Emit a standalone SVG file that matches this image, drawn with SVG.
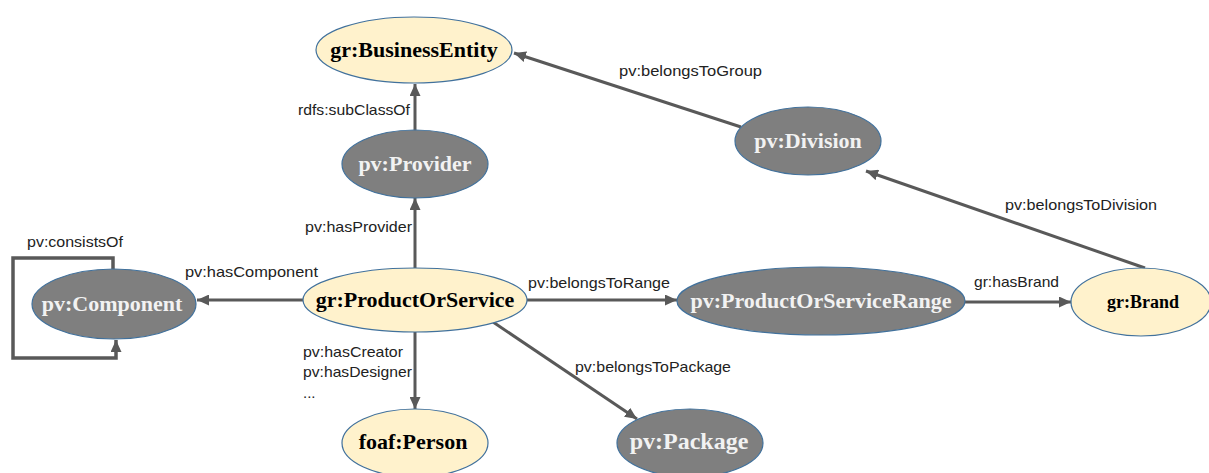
<svg xmlns="http://www.w3.org/2000/svg" width="1209" height="473" viewBox="0 0 1209 473">
<defs>
<marker id="ah" markerUnits="userSpaceOnUse" markerWidth="13" markerHeight="11" refX="12" refY="5.5" orient="auto">
<path d="M0,0 L12,5.5 L0,11 z" fill="#595959"/>
</marker>
<style>
.edge{fill:none;stroke:#595959;stroke-width:3;marker-end:url(#ah)}
.loop{fill:none;stroke:#595959;stroke-width:3.5;marker-end:url(#ah)}
.dark{fill:#7f7f7f;stroke:#41719c;stroke-width:1.2}
.light{fill:#fff2cc;stroke:#41719c;stroke-width:1.2}
.nt{font-family:"Liberation Serif","Times New Roman",serif;font-weight:bold;font-size:22px;text-anchor:middle}
.dt{fill:#f2f2f2}
.lt{fill:#000}
.lbl{font-family:"Liberation Sans",Arial,sans-serif;font-size:15px;fill:#222}
</style>
</defs>
<rect width="1209" height="473" fill="#fff"/>
<g id="connectors">
<path class="edge" d="M415,130 L415,84"/>
<path class="edge" d="M415,268 L415,198"/>
<path class="edge" d="M741,127 L514,53"/>
<path class="edge" d="M1145,268 L866,171"/>
<path class="edge" d="M965,302 L1071,302"/>
<path class="edge" d="M527,300 L677,300"/>
<path class="edge" d="M303,300 L197,300"/>
<path class="edge" d="M415,332 L415,409"/>
<path class="edge" d="M493,322 L637,419"/>
<path class="loop" d="M113,269 L113,258 L13,258 L13,358 L116,358 L116,340"/>
<text class="lbl" x="298" y="115" textLength="112" lengthAdjust="spacingAndGlyphs">rdfs:subClassOf</text>
<text class="lbl" x="305" y="232" textLength="107" lengthAdjust="spacingAndGlyphs">pv:hasProvider</text>
<text class="lbl" x="619" y="76" textLength="143" lengthAdjust="spacingAndGlyphs">pv:belongsToGroup</text>
<text class="lbl" x="1005" y="210" textLength="152" lengthAdjust="spacingAndGlyphs">pv:belongsToDivision</text>
<text class="lbl" x="27" y="247" textLength="96" lengthAdjust="spacingAndGlyphs">pv:consistsOf</text>
<text class="lbl" x="185" y="277" textLength="133" lengthAdjust="spacingAndGlyphs">pv:hasComponent</text>
<text class="lbl" x="528" y="288" textLength="142" lengthAdjust="spacingAndGlyphs">pv:belongsToRange</text>
<text class="lbl" x="974" y="287" textLength="85" lengthAdjust="spacingAndGlyphs">gr:hasBrand</text>
<text class="lbl" x="303" y="357" textLength="100" lengthAdjust="spacingAndGlyphs">pv:hasCreator</text>
<text class="lbl" x="303" y="377" textLength="109" lengthAdjust="spacingAndGlyphs">pv:hasDesigner</text>
<text class="lbl" x="303" y="398">...</text>
<text class="lbl" x="575" y="372" textLength="156" lengthAdjust="spacingAndGlyphs">pv:belongsToPackage</text>
</g>
<g id="businessEntity"><ellipse class="light" cx="414" cy="50" rx="98" ry="33"/><text class="nt lt" x="414" y="57">gr:BusinessEntity</text></g>
<g id="provider"><ellipse class="dark" cx="415" cy="164" rx="73" ry="34"/><text class="nt dt" x="415" y="171">pv:Provider</text></g>
<g id="division"><ellipse class="dark" cx="808" cy="141" rx="73" ry="34"/><text class="nt dt" x="808" y="148">pv:Division</text></g>
<g id="component"><ellipse class="dark" cx="114" cy="304" rx="82" ry="35"/><text class="nt dt" x="112" y="311">pv:Component</text></g>
<g id="productOrService"><ellipse class="light" cx="415" cy="300" rx="112" ry="32"/><text class="nt lt" x="415" y="307">gr:ProductOrService</text></g>
<g id="productOrServiceRange"><ellipse class="dark" cx="821" cy="301" rx="144" ry="34"/><text class="nt dt" x="821" y="308">pv:ProductOrServiceRange</text></g>
<g id="brand"><ellipse class="light" cx="1141" cy="302" rx="70" ry="34"/><text class="nt lt" x="1143" y="308" style="font-size:18px">gr:Brand</text></g>
<g id="person"><ellipse class="light" cx="415" cy="443" rx="73" ry="34"/><text class="nt lt" x="413" y="449">foaf:Person</text></g>
<g id="package"><ellipse class="dark" cx="690" cy="443" rx="73" ry="34"/><text class="nt dt" x="689" y="449" style="font-size:24px">pv:Package</text></g>
</svg>
